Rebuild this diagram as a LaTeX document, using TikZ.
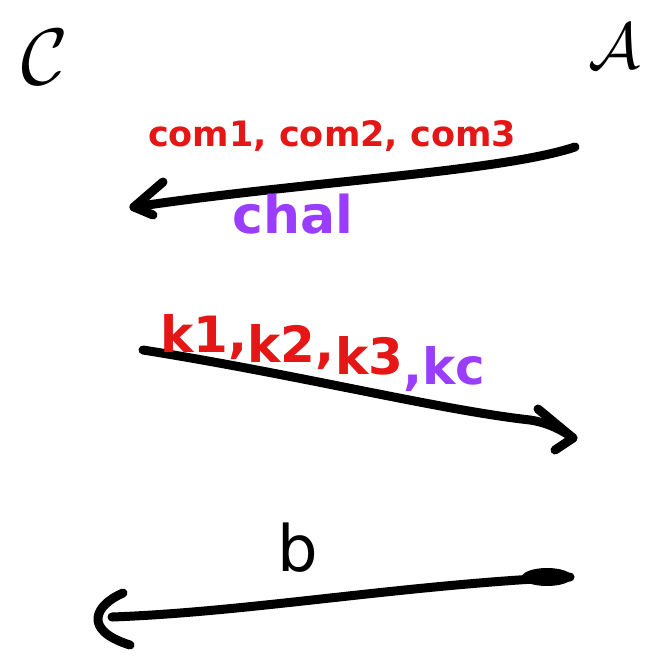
\documentclass[tikz,border=0pt]{standalone}
\usepackage{fontspec}
\setmainfont{DejaVu Sans}
\definecolor{penred}{HTML}{E51616}
\definecolor{penpurple}{HTML}{9B3DFF}
\tikzset{
  pen/.style={line width=9pt, line cap=round, line join=round, black},
  lbl/.style={inner sep=0pt, font=\bfseries},
  kred/.style={lbl, text=penred, font=\bfseries\fontsize{50}{50}\selectfont, anchor=base west},
  kpur/.style={lbl, text=penpurple, font=\bfseries\fontsize{50}{50}\selectfont, anchor=base west},
  party/.style={inner sep=0pt},
}
\begin{document}
\begin{tikzpicture}[x=1pt,y=-1pt]
\useasboundingbox[fill=white] (0,0) rectangle (663,660);
% parties
\node[party] (C) at (45,57) {\scalebox{8}{$\mathcal{C}$}};
\node[party] (A) at (614,46) {\scalebox{6.5}{$\mathcal{A}$}};
% arrow 1
\coordinate (a1s) at (575,147);
\coordinate (a1e) at (134,207);
\draw[pen] (a1s) .. controls (500,172) and (300,182) .. (a1e);
\draw[pen] (163,182) -- (a1e) -- (153,215);
\node[lbl, text=penred, font=\bfseries\fontsize{35}{35}\selectfont] (com) at (332,136) {com1, com2, com3};
\node[lbl, text=penpurple, font=\bfseries\fontsize{52}{52}\selectfont] (chal) at (293,214) {chal};
% arrow 2
\coordinate (a2s) at (143,350);
\coordinate (a2e) at (573,438);
\draw[pen] (a2s) .. controls (300,375) and (440,410) .. (530,420) .. controls (550,423) and (565,432) .. (a2e);
\draw[pen] (538,409) -- (a2e) -- (555,450);
\node[kred] (k1) at (160,352) {k1,};
\node[kred] (k2) at ([yshift=-10pt]k1.base east) {k2,};
\node[kred] (k3) at ([yshift=-12pt]k2.base east) {k3};
\node[kpur] (kc) at ([yshift=-10pt]k3.base east) {,kc};
% arrow 3
\coordinate (a3s) at (570,577);
\coordinate (a3e) at (112,617);
\fill (547,577) ellipse [x radius=25, y radius=9];
\draw[pen] (a3s) .. controls (400,585) and (250,612) .. (a3e);
\draw[pen] (123,593) .. controls (95,605) and (82,630) .. (130,645);
\node[lbl, font=\fontsize{64}{64}\selectfont] (b) at (298,548) {b};
\end{tikzpicture}
\end{document}
